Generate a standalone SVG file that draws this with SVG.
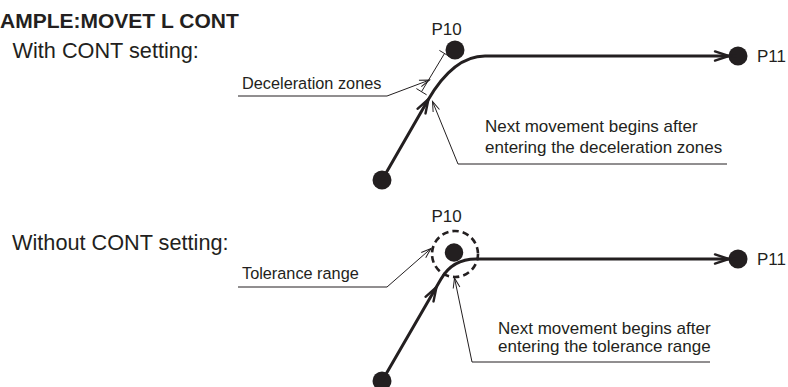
<svg xmlns="http://www.w3.org/2000/svg" width="788" height="387" viewBox="0 0 788 387">
<style>
  text { font-family: "Liberation Sans", Arial, sans-serif; fill: #231f20; }
  .title { font-size: 21px; font-weight: bold; }
  .head { font-size: 21.7px; }
  .pt { font-size: 17px; }
  .lbl { font-size: 16.3px; }
  .note { font-size: 17px; }
  .dot { fill: #231f20; }
  .path { fill: none; stroke: #231f20; stroke-width: 3; stroke-linejoin: round; }
  .barb { fill: none; stroke: #231f20; stroke-width: 2.4; stroke-linecap: round; stroke-linejoin: miter; }
  .leader { fill: none; stroke: #231f20; stroke-width: 1; }
  .tol { fill: none; stroke: #231f20; stroke-width: 2.6; stroke-dasharray: 6.5 4; }
</style>
<defs>
  <marker id="open" markerUnits="userSpaceOnUse" markerWidth="14" markerHeight="10" viewBox="-11 -5 12 10" refX="0" refY="0" orient="auto">
    <path d="M-10,-3.4 L0,0 L-10,3.4" fill="none" stroke="#231f20" stroke-width="1"/>
  </marker>
  <path id="arrowhead" d="M-14,-4.6 L0,0 L-14,4.6"/>
</defs>

<g id="title"><text class="title" x="0" y="28">AMPLE:MOVET L CONT</text></g>

<g id="with-cont">
  <text class="head" x="12.5" y="58">With CONT setting:</text>
</g>
<g id="without-cont">
  <text class="head" x="12" y="249.5">Without CONT setting:</text>
</g>

<!-- top scenario nodes -->
<g id="top-p10">
  <circle class="dot" cx="455" cy="50" r="9.5"/>
  <text class="pt" x="431.5" y="35">P10</text>
</g>
<g id="top-p11">
  <circle class="dot" cx="738" cy="56" r="9.5"/>
  <text class="pt" x="757" y="62">P11</text>
</g>
<g id="top-start">
  <circle class="dot" cx="382" cy="180" r="9.5"/>
</g>
<g id="decel-zone">
  <path class="leader" d="M421.5,91.7 L444.5,53.5 M439.4,50.4 L449.6,56.6 M416.4,88.6 L426.6,94.8"/>
</g>
<g id="label-decel">
  <text class="lbl" x="242" y="88.5">Deceleration zones</text>
</g>
<g id="note-top">
  <text class="note" x="485" y="131.5">Next movement begins after</text>
  <text class="note" x="485" y="152.5">entering the deceleration zones</text>
</g>

<!-- bottom scenario nodes -->
<g id="bottom-p10">
  <circle class="tol" cx="455" cy="254" r="23"/>
  <circle class="dot" cx="454" cy="252.5" r="9.2"/>
  <text class="pt" x="431.5" y="222">P10</text>
</g>
<g id="bottom-p11">
  <circle class="dot" cx="738" cy="259" r="9.5"/>
  <text class="pt" x="757" y="265">P11</text>
</g>
<g id="bottom-start">
  <circle class="dot" cx="382" cy="381" r="9.5"/>
</g>
<g id="label-tol">
  <text class="lbl" x="242" y="279">Tolerance range</text>
</g>
<g id="note-bottom">
  <text class="note" x="498" y="334">Next movement begins after</text>
  <text class="note" x="498" y="351.7">entering the tolerance range</text>
</g>

<g id="connectors">
  <!-- top motion path -->
  <path class="path" d="M382,180 L428,100 Q453.6,56 485,56 L737,56"/>
  <use href="#arrowhead" class="barb" transform="translate(428.5,99) rotate(-60)"/>
  <use href="#arrowhead" class="barb" transform="translate(729,56)"/>
  <!-- top leaders -->
  <path class="leader" d="M238,96 L387,96 L429.5,80" marker-end="url(#open)"/>
  <path class="leader" d="M727,164 L458,164 L432.5,101.5" marker-end="url(#open)"/>

  <!-- bottom motion path -->
  <path class="path" d="M382,381 L441,279 Q452.5,259 476,259 L737,259"/>
  <use href="#arrowhead" class="barb" transform="translate(436.5,287) rotate(-60)"/>
  <use href="#arrowhead" class="barb" transform="translate(729,259)"/>
  <!-- bottom leaders -->
  <path class="leader" d="M238,287 L387,287 L431,248.5" marker-end="url(#open)"/>
  <path class="leader" d="M710,362 L472,362 L454.5,278" marker-end="url(#open)"/>
</g>
</svg>
